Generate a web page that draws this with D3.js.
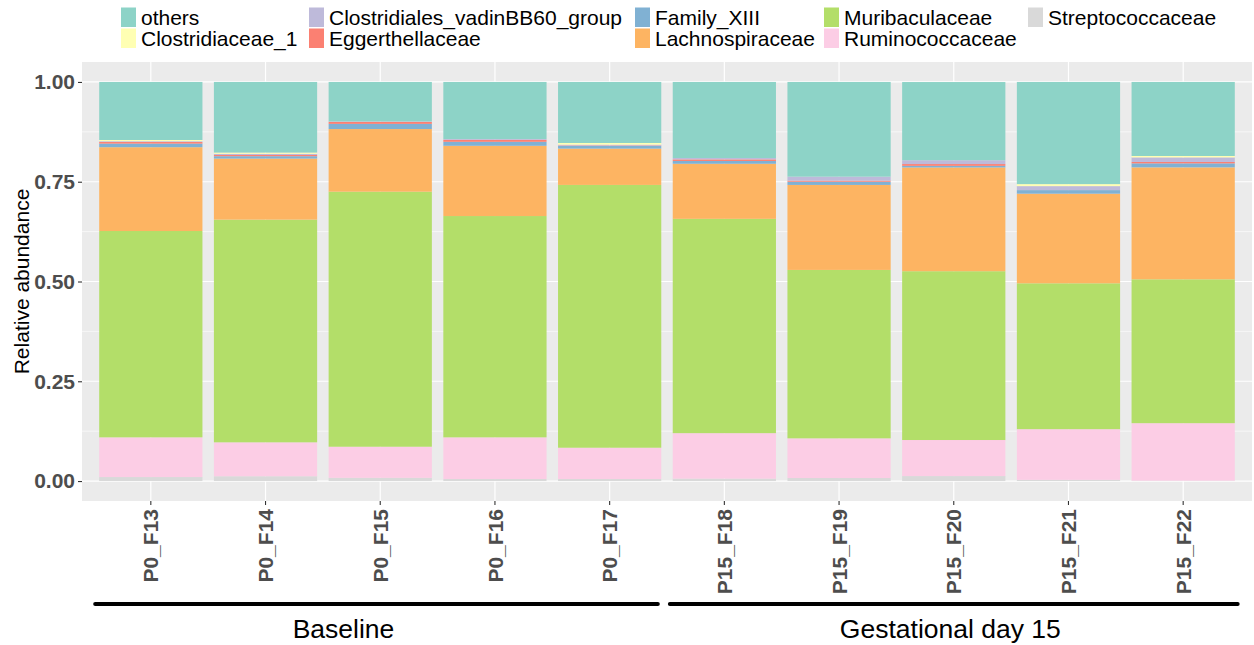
<!DOCTYPE html>
<html>
<head>
<meta charset="utf-8">
<script src="https://cdn.jsdelivr.net/npm/d3@7/dist/d3.min.js"></script>
<style>
  html, body { margin: 0; padding: 0; background: #ffffff; }
  svg { display: block; font-family: "Liberation Sans", Arial, sans-serif; }
</style>
</head>
<body>
<svg id="chart" width="1254" height="645"></svg>
<script>
// Samples (x categories)
const samples = ["P0_F13", "P0_F14", "P0_F15", "P0_F16", "P0_F17",
                 "P15_F18", "P15_F19", "P15_F20", "P15_F21", "P15_F22"];

// Families, in legend order (first one sits on top of each stack)
const families = ["others", "Clostridiaceae_1", "Clostridiales_vadinBB60_group",
                  "Eggerthellaceae", "Family_XIII", "Lachnospiraceae",
                  "Muribaculaceae", "Ruminococcaceae", "Streptococcaceae"];
const familyColors = ["#8DD3C7", "#FFFFB3", "#BEBADA", "#FB8072", "#80B1D3",
                      "#FDB462", "#B3DE69", "#FCCDE5", "#D9D9D9"];

// Relative abundance of each family per sample
const others           = [0.1455, 0.177, 0.099, 0.143, 0.153, 0.1905, 0.2373, 0.196, 0.256, 0.1855];
const clostridiaceae1  = [0.003, 0.003, 0.000, 0.000, 0.004, 0.000, 0.000, 0.000, 0.005, 0.0035];
const vadinBB60        = [0.002, 0.003, 0.001, 0.002, 0.002, 0.0035, 0.010, 0.0095, 0.010, 0.0115];
const eggerthellaceae  = [0.004, 0.003, 0.005, 0.005, 0.001, 0.004, 0.0027, 0.0045, 0.000, 0.0035];
const familyXIII       = [0.009, 0.006, 0.013, 0.010, 0.007, 0.007, 0.008, 0.004, 0.009, 0.010];
const lachnospiraceae  = [0.210, 0.153, 0.157, 0.176, 0.091, 0.138, 0.213, 0.260, 0.2245, 0.2805];
const muribaculaceae   = [0.517, 0.558, 0.639, 0.5545, 0.6585, 0.537, 0.422, 0.423, 0.3655, 0.3605];
const ruminococcaceae  = [0.0995, 0.085, 0.078, 0.1045, 0.0785, 0.114, 0.0995, 0.0903, 0.127, 0.144];
const streptococcaceae = [0.010, 0.012, 0.008, 0.005, 0.005, 0.006, 0.0075, 0.0125, 0.003, 0.001];

const seriesValues = [others, clostridiaceae1, vadinBB60, eggerthellaceae, familyXIII,
                      lachnospiraceae, muribaculaceae, ruminococcaceae, streptococcaceae];

const yTicks = [0, 0.25, 0.5, 0.75, 1.0];
const yTickLabels = ["0.00", "0.25", "0.50", "0.75", "1.00"];
const yMinorTicks = [0.125, 0.375, 0.625, 0.875];

// Sample groups drawn under the axis: span in category units, label position
const groupLabels = ["Baseline", "Gestational day 15"];
const groupSpans = [[0.515, 5.42], [5.525, 10.475]];
const groupLabelPos = [2.68, 7.97];

// ---- layout ----
const svg = d3.select("#chart");
const panel = { left: 82, right: 1252, top: 62, bottom: 501 };

// discrete scale: 0.9-wide bars, 0.6 step of space beyond the outer bar centres
const x = d3.scaleBand()
  .domain(samples)
  .range([panel.left, panel.right])
  .paddingInner(0.1)
  .paddingOuter(0.15);
const xc = d => x(d) + x.bandwidth() / 2;
// continuous position along categories (1 = first sample)
const xUnit = d3.scaleLinear().domain([1, samples.length])
  .range([xc(samples[0]), xc(samples[samples.length - 1])]);

const y = d3.scaleLinear().domain([-0.05, 1.05]).range([panel.bottom, panel.top]);

// stacked table
const table = samples.map((s, i) => {
  const row = { sample: s };
  families.forEach((f, k) => { row[f] = seriesValues[k][i]; });
  return row;
});
const stackOrder = families.slice().reverse(); // Streptococcaceae at the bottom
const stacked = d3.stack().keys(stackOrder)(table);
const colorOf = d3.scaleOrdinal().domain(families).range(familyColors);

// ---- panel background and grid ----
svg.append("rect")
  .attr("x", panel.left).attr("y", panel.top)
  .attr("width", panel.right - panel.left).attr("height", panel.bottom - panel.top)
  .attr("fill", "#EBEBEB");

const grid = svg.append("g");
grid.selectAll("line.minor").data(yMinorTicks).join("line")
  .attr("x1", panel.left).attr("x2", panel.right)
  .attr("y1", d => y(d)).attr("y2", d => y(d))
  .attr("stroke", "#ffffff").attr("stroke-width", 0.6);
grid.selectAll("line.majorY").data(yTicks).join("line")
  .attr("x1", panel.left).attr("x2", panel.right)
  .attr("y1", d => y(d)).attr("y2", d => y(d))
  .attr("stroke", "#ffffff").attr("stroke-width", 1.2);
grid.selectAll("line.majorX").data(samples).join("line")
  .attr("x1", d => xc(d)).attr("x2", d => xc(d))
  .attr("y1", panel.top).attr("y2", panel.bottom)
  .attr("stroke", "#ffffff").attr("stroke-width", 1.2);

// ---- bars ----
const bars = svg.append("g");
stacked.forEach(layer => {
  bars.append("g")
    .attr("fill", colorOf(layer.key))
    .selectAll("rect").data(layer).join("rect")
    .attr("x", d => x(d.data.sample))
    .attr("width", x.bandwidth())
    .attr("y", d => y(d[1]))
    .attr("height", d => Math.max(0, y(d[0]) - y(d[1])));
});

// ---- axes ----
const yAxis = d3.axisLeft(y)
  .tickValues(yTicks)
  .tickFormat((d, i) => yTickLabels[i])
  .tickSize(4).tickPadding(3);
const gy = svg.append("g").attr("transform", `translate(${panel.left},0)`).call(yAxis);
gy.select(".domain").remove();
gy.selectAll(".tick line").attr("stroke", "#333333").attr("stroke-width", 1.1);
gy.selectAll(".tick text")
  .attr("fill", "#4D4D4D")
  .style("font-size", "21px").style("font-weight", "bold")
  .attr("font-family", null);

const xAxis = d3.axisBottom(x).tickSize(4).tickPadding(0);
const gx = svg.append("g").attr("transform", `translate(0,${panel.bottom})`).call(xAxis);
gx.select(".domain").remove();
gx.selectAll(".tick line").attr("stroke", "#333333").attr("stroke-width", 1.1);
gx.selectAll(".tick text")
  .attr("fill", "#4D4D4D")
  .style("font-size", "21px").style("font-weight", "bold")
  .attr("font-family", null)
  .attr("text-anchor", "end")
  .attr("transform", "rotate(-90)")
  .attr("x", -8).attr("y", 0).attr("dy", "0.36em");

// y axis title
svg.append("text")
  .attr("transform", `translate(29,${(panel.top + panel.bottom) / 2}) rotate(-90)`)
  .attr("text-anchor", "middle")
  .style("font-size", "21px")
  .attr("fill", "#000000")
  .text("Relative abundance");

// ---- sample groups under the axis ----
const groups = svg.append("g");
groupLabels.forEach((label, i) => {
  groups.append("line")
    .attr("x1", xUnit(groupSpans[i][0])).attr("x2", xUnit(groupSpans[i][1]))
    .attr("y1", 604).attr("y2", 604)
    .attr("stroke", "#000000").attr("stroke-width", 4)
    .attr("stroke-linecap", "round");
  groups.append("text")
    .attr("x", xUnit(groupLabelPos[i])).attr("y", 638)
    .attr("text-anchor", "middle")
    .style("font-size", "26.5px")
    .attr("fill", "#000000")
    .text(label);
});

// ---- legend (two rows, filled column by column) ----
const legendCols = [121, 309, 635, 824, 1028];
const legendRows = [7.5, 28.5];
const legend = svg.append("g");
families.forEach((f, i) => {
  const col = Math.floor(i / 2), row = i % 2;
  const g = legend.append("g")
    .attr("transform", `translate(${legendCols[col]},${legendRows[row]})`);
  g.append("rect")
    .attr("width", 15).attr("height", 19.5)
    .attr("fill", colorOf(f));
  g.append("text")
    .attr("x", 20).attr("y", 17.5)
    .style("font-size", "21px")
    .attr("fill", "#000000")
    .text(f);
});
</script>
</body>
</html>
